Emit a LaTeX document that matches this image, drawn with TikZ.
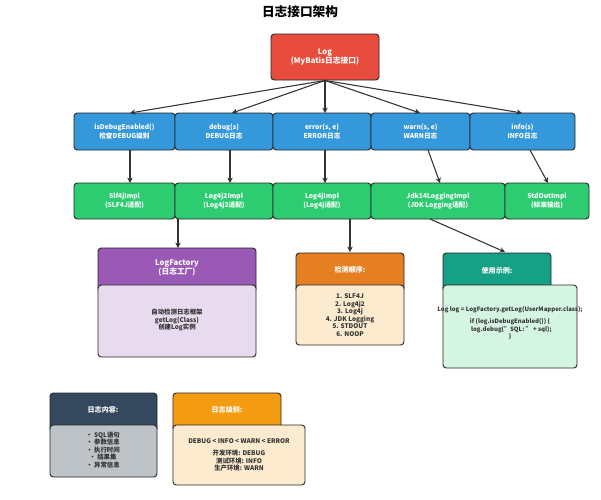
\documentclass[tikz,border=0pt]{standalone}
\usepackage{fontspec}
\setmainfont{Noto Sans CJK SC}
\setsansfont{Noto Sans CJK SC}
\usetikzlibrary{arrows.meta}
\definecolor{cred}{HTML}{E74C3C}\definecolor{cblue}{HTML}{3498DB}\definecolor{cgreen}{HTML}{2ECC71}
\definecolor{cpur}{HTML}{9B59B6}\definecolor{clav}{HTML}{E8DAEF}\definecolor{corg}{HTML}{E67E22}
\definecolor{cpeach}{HTML}{FDEBD0}\definecolor{cteal}{HTML}{16A085}\definecolor{cmint}{HTML}{D5F5E3}
\definecolor{cnavy}{HTML}{34495E}\definecolor{cgray}{HTML}{BDC3C7}\definecolor{cyel}{HTML}{F39C12}
\definecolor{cline}{HTML}{333333}
\begin{document}
\begin{tikzpicture}[x=0.75pt,y=-0.75pt,
 box/.style={draw=black!85,line width=0.7pt,rounded corners=2.5pt,align=center,inner sep=0pt},
 wt/.style={text=white},
 bk/.style={text=black!80},
 arr/.style={-{Stealth[length=4pt,width=4pt]},draw=cline,line width=0.8pt}]
\useasboundingbox (0,0) rectangle (601,500);
\newcommand{\bx}[6]{\node[box,#6,minimum width={(#3-#1)*0.75pt},minimum height={(#4-#2)*0.75pt}] (#5) at ({(#1+#3)/2},{(#2+#4)/2}) {};}
\node[font=\bfseries\fontsize{9.5}{11}\selectfont] (title) at (300,12) {日志接口架构};
\bx{271}{34}{379}{80}{log}{fill=cred}
\node[wt,align=center,font=\bfseries\fontsize{5.8}{7}\selectfont] at (log) {Log\\(MyBatis日志接口)};
% blue
\bx{74}{113}{175}{150}{b1}{fill=cblue}\bx{175}{113}{273}{150}{b2}{fill=cblue}\bx{273}{113}{371}{150}{b3}{fill=cblue}
\bx{371}{113}{470}{150}{b4}{fill=cblue}\bx{470}{113}{575}{150}{b5}{fill=cblue}
\foreach \n/\t in {b1/{isDebugEnabled()\\检查DEBUG级别},b2/{debug(s)\\DEBUG日志},b3/{error(s, e)\\ERROR日志},b4/{warn(s, e)\\WARN日志},b5/{info(s)\\INFO日志}}
  \node[wt,align=center,font=\bfseries\fontsize{5}{6.2}\selectfont] at (\n) {\t};
% green
\bx{74}{183}{175}{219}{g1}{fill=cgreen}\bx{175}{183}{273}{219}{g2}{fill=cgreen}\bx{273}{183}{371}{219}{g3}{fill=cgreen}
\bx{371}{183}{505}{219}{g4}{fill=cgreen}\bx{505}{183}{589}{219}{g5}{fill=cgreen}
\foreach \n/\t in {g1/{Slf4jImpl\\(SLF4J适配)},g2/{Log4j2Impl\\(Log4j2适配)},g3/{Log4jImpl\\(Log4j适配)},g4/{Jdk14LoggingImpl\\(JDK Logging适配)},g5/{StdOutImpl\\(标准输出)}}
  \node[wt,align=center,font=\bfseries\fontsize{5}{6.2}\selectfont] at (\n) {\t};
% arrows
\foreach \x in {130,232,325,420,522} \draw[arr] (log.south) -- (\x,113);
\coordinate (c1) at (130,150);\coordinate (c2) at (230,150);\coordinate (c3) at (325,150);\coordinate (c4) at (428,150);\coordinate (c5) at (530,150);
\draw[arr] (c1) -- (130,183);\draw[arr] (c2) -- (230,183);\draw[arr] (c3) -- (325,183);
\draw[arr] (c4) -- (440,183);\draw[arr] (c5) -- (548,183);
% lower boxes
\bx{98}{248}{256}{292}{f1}{fill=cpur}\bx{98}{285}{256}{357}{f2}{fill=clav}
\node[wt,font=\bfseries\fontsize{5.8}{7}\selectfont,align=center] at (177,268) {LogFactory\\(日志工厂)};
\node[bk,font=\bfseries\fontsize{4.8}{5.8}\selectfont,align=center] at (177,320) {自动检测日志框架\\getLog(Class)\\创建Log实例};
\bx{296}{253}{404}{292}{o1}{fill=corg}\bx{296}{285}{404}{345}{o2}{fill=cpeach}
\node[wt,font=\bfseries\fontsize{5.3}{7}\selectfont] at (350,270) {检测顺序:};
\node[bk,font=\bfseries\fontsize{4.8}{5.6}\selectfont,align=center] at (350,315) {1. SLF4J\\2. Log4j2\\3. Log4j\\4. JDK Logging\\5. STDOUT\\6. NOOP};
\bx{443}{253}{551}{292}{t1}{fill=cteal}\bx{443}{285}{577}{368}{t2}{fill=cmint}
\node[wt,font=\bfseries\fontsize{5.3}{7}\selectfont] at (497,271) {使用示例:};
\node[bk,font=\bfseries\fontsize{4.5}{5.6}\selectfont,align=center] at (510,323) {Log log = LogFactory.getLog(UserMapper.class);\\[4pt]if (log.isDebugEnabled()) \{\\\ \ log.debug("SQL: " + sql);\\\}};
\draw[arr] (178,219) -- (178,248);
\draw[arr] (350,219) -- (350,252);
\draw[arr] (430,219) -- (505,252);
\bx{50}{393}{157}{432}{n1}{fill=cnavy}\bx{50}{425}{157}{477}{n2}{fill=cgray}
\node[wt,font=\bfseries\fontsize{5.3}{7}\selectfont] at (103,410) {日志内容:};
\node[bk,font=\bfseries\fontsize{4.8}{5.6}\selectfont,align=center] at (103,450) {• SQL语句\\• 参数信息\\• 执行时间\\• 结果集\\• 异常信息};
\bx{173}{393}{281}{432}{y1}{fill=cyel}\bx{173}{425}{305}{485}{y2}{fill=cpeach}
\node[wt,font=\bfseries\fontsize{5.3}{7}\selectfont] at (227,410) {日志级别:};
\node[bk,font=\bfseries\fontsize{4.8}{5.8}\selectfont,align=center] at (239,441) {DEBUG < INFO < WARN < ERROR};
\node[bk,font=\bfseries\fontsize{4.8}{5.6}\selectfont,align=center] at (239,461) {开发环境: DEBUG\\测试环境: INFO\\生产环境: WARN};
\end{tikzpicture}
\end{document}
